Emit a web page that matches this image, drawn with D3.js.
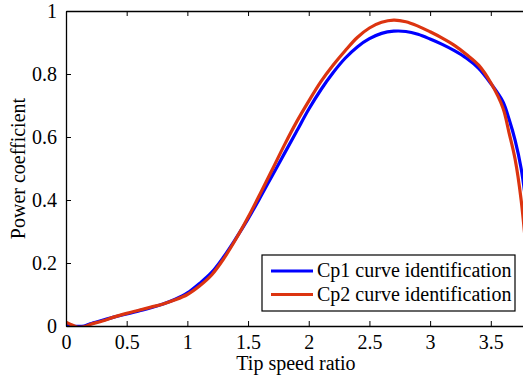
<!DOCTYPE html>
<html>
<head>
<meta charset="utf-8">
<script src="https://cdn.jsdelivr.net/npm/d3@7"></script>
<style>
  body { margin: 0; background: #fff; }
  text { font-family: "Liberation Serif", "Times New Roman", serif; fill: #000; }
</style>
</head>
<body>
<div class="chart_area"></div>
<script>
// tip speed ratio samples
var tsr1 = [0, 0.05, 0.15, 0.2, 0.3, 0.4, 0.5, 0.6, 0.7, 0.8, 0.9, 1.0, 1.1, 1.2, 1.3, 1.4, 1.5, 1.6, 1.7, 1.8, 1.9, 2.0, 2.1, 2.2, 2.3, 2.4, 2.5, 2.6, 2.7, 2.8, 2.9, 3.0, 3.1, 3.2, 3.3, 3.4, 3.5, 3.6, 3.65, 3.7, 3.75, 3.8];
var cp1 = [0.003, 0, 0, 0.007, 0.018, 0.029, 0.038, 0.048, 0.058, 0.07, 0.085, 0.105, 0.135, 0.17, 0.22, 0.278, 0.34, 0.408, 0.478, 0.548, 0.618, 0.688, 0.75, 0.804, 0.85, 0.886, 0.912, 0.929, 0.936, 0.935, 0.926, 0.911, 0.894, 0.874, 0.85, 0.818, 0.77, 0.712, 0.657, 0.59, 0.5, 0.36];

var tsr2 = [0, 0.05, 0.1, 0.17, 0.2, 0.3, 0.4, 0.5, 0.6, 0.7, 0.8, 0.9, 1.0, 1.1, 1.2, 1.3, 1.4, 1.5, 1.6, 1.7, 1.8, 1.9, 2.0, 2.1, 2.2, 2.3, 2.4, 2.5, 2.6, 2.7, 2.8, 2.9, 3.0, 3.1, 3.2, 3.3, 3.4, 3.5, 3.6, 3.65, 3.7, 3.75, 3.8];
var cp2 = [0.012, 0.003, -0.004, 0, 0.005, 0.016, 0.029, 0.04, 0.05, 0.06, 0.07, 0.083, 0.1, 0.127, 0.162, 0.214, 0.276, 0.345, 0.42, 0.497, 0.575, 0.648, 0.714, 0.776, 0.828, 0.874, 0.916, 0.946, 0.964, 0.971, 0.966, 0.952, 0.934, 0.914, 0.891, 0.862, 0.828, 0.772, 0.692, 0.614, 0.53, 0.4, 0.2];

var xTicks = [0, 0.5, 1, 1.5, 2, 2.5, 3, 3.5];
var yTicks = [0, 0.2, 0.4, 0.6, 0.8, 1];
var seriesNames = ["Cp1 curve identification", "Cp2 curve identification"];
var seriesColors = ["#0000ff", "#dc3410"];

var width = 523, height = 378;
var plot = { left: 66, top: 11, right: 526, bottom: 326 };

var svg = d3.select(".chart_area")
    .append("svg")
    .attr("width", width)
    .attr("height", height);

var x = d3.scaleLinear()
    .domain([0, 3.79])
    .range([plot.left, plot.right]);

var y = d3.scaleLinear()
    .domain([0, 1])
    .range([plot.bottom, plot.top]);

svg.append("clipPath")
    .attr("id", "plotClip")
    .append("rect")
    .attr("x", plot.left)
    .attr("y", plot.top)
    .attr("width", plot.right - plot.left)
    .attr("height", plot.bottom - plot.top);

var line = d3.line()
    .x(function(d) { return x(d[0]); })
    .y(function(d) { return y(d[1]); })
    .curve(d3.curveCatmullRom.alpha(0.5));

var curves = [d3.zip(tsr1, cp1), d3.zip(tsr2, cp2)];

svg.append("g")
    .attr("clip-path", "url(#plotClip)")
    .selectAll("path")
    .data(curves)
    .enter()
    .append("path")
    .attr("d", line)
    .attr("fill", "none")
    .attr("stroke", function(d, i) { return seriesColors[i]; })
    .attr("stroke-width", 3.2)
    .attr("stroke-linejoin", "round");

// axes (inward ticks, box like matlab)
var xAxis = svg.append("g")
    .attr("transform", "translate(0," + plot.bottom + ")")
    .call(d3.axisBottom(x).tickValues(xTicks).tickSizeInner(-5).tickSizeOuter(0).tickPadding(9)
        .tickFormat(function(d) { return d3.format("")(d); }));

var xTop = svg.append("g")
    .attr("transform", "translate(0," + plot.top + ")")
    .call(d3.axisTop(x).tickValues(xTicks).tickSizeInner(-5).tickSizeOuter(0).tickFormat(""));

var yAxis = svg.append("g")
    .attr("transform", "translate(" + plot.left + ",0)")
    .call(d3.axisLeft(y).tickValues(yTicks).tickSizeInner(-5).tickSizeOuter(0).tickPadding(9)
        .tickFormat(function(d) { return d3.format("")(d); }));

[xAxis, xTop, yAxis].forEach(function(a) {
    a.attr("font-family", null);
    a.selectAll("line").attr("stroke", "#000");
    a.select(".domain").attr("stroke", "#000").attr("stroke-width", 1.3);
    a.selectAll("text").style("font-size", "20px").attr("fill", "#000")
        .style("font-family", "'Liberation Serif', 'Times New Roman', serif");
});

svg.append("text")
    .attr("x", (plot.left + plot.right) / 2)
    .attr("y", 370)
    .attr("text-anchor", "middle")
    .style("font-size", "20px")
    .text("Tip speed ratio");

svg.append("text")
    .attr("transform", "translate(25," + (plot.top + plot.bottom) / 2 + ") rotate(-90)")
    .attr("text-anchor", "middle")
    .style("font-size", "20px")
    .text("Power coefficient");

// legend
var legend = svg.append("g");
legend.append("rect")
    .attr("x", 262)
    .attr("y", 255)
    .attr("width", 253)
    .attr("height", 56)
    .attr("fill", "#fff")
    .attr("stroke", "#000")
    .attr("stroke-width", 1.2);

seriesNames.forEach(function(name, i) {
    var ly = 271 + i * 23.5;
    legend.append("line")
        .attr("x1", 271).attr("x2", 313)
        .attr("y1", ly).attr("y2", ly)
        .attr("stroke", seriesColors[i])
        .attr("stroke-width", 3.2);
    legend.append("text")
        .attr("x", 317)
        .attr("y", ly + 6)
        .style("font-size", "20px")
        .text(name);
});
</script>
</body>
</html>
